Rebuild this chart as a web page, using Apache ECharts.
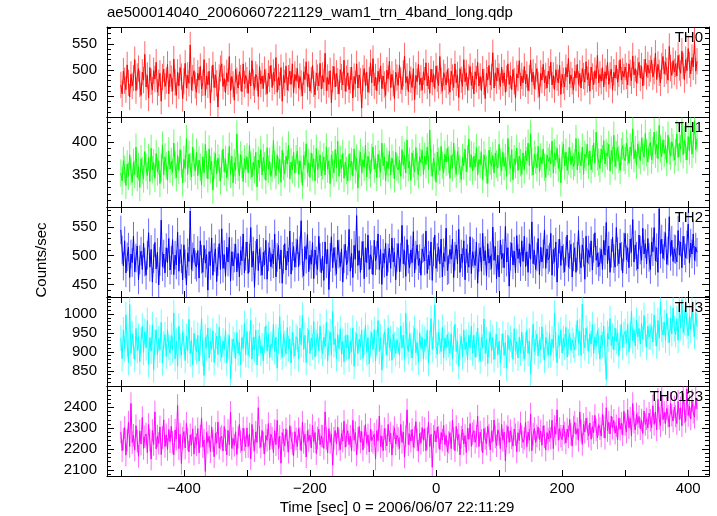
<!DOCTYPE html>
<html><head><meta charset="utf-8">
<script src="https://cdn.jsdelivr.net/npm/echarts@6/dist/echarts.min.js"></script>
<style>html,body{margin:0;padding:0;background:#fff}#c{width:717px;height:516px}</style>
</head><body><div id="c"></div>
<script>
// ---- data ----
const titleText = 'ae500014040_20060607221129_wam1_trn_4band_long.qdp';
const xTitle = 'Time [sec] 0 = 2006/06/07 22:11:29';
const yTitle = 'Counts/sec';
const panelNames = ['TH0', 'TH1', 'TH2', 'TH3', 'TH0123'];
const panelColors = ['#ff0000', '#00ff00', '#0000ff', '#00ffff', '#ff00ff'];
const tStart = -500, binSize = 2;
const xMin = -522, xMax = 433;
const xTickValues = [-500, -400, -300, -200, -100, 0, 100, 200, 300, 400];
const xLabelValues = [-400, -200, 0, 200, 400];
const yMins = [411, 300, 428, 810, 2071];
const yMaxs = [582, 438, 585, 1045, 2502];
const yLabelValues = [[450, 500, 550], [350, 400], [450, 500, 550], [850, 900, 950, 1000], [2100, 2200, 2300, 2400]];
const yMinorSteps = [10, 10, 10, 10, 20];
const panelErrors = [25, 21, 25, 34, 54];

const th0 = [
472,455,498,480,463,510,476,449,492,470,485,520,461,488,503,474,452,496,481,530,
468,490,447,505,478,462,499,483,515,458,476,494,441,487,502,469,480,511,455,493,
484,460,521,477,452,496,470,505,488,446,479,513,466,490,475,548,462,485,499,471,
458,494,481,507,464,476,520,452,489,472,498,438,483,510,467,491,475,430,486,503,
512,469,484,457,495,478,526,461,488,473,443,502,480,466,497,485,459,512,474,490,
481,456,499,470,518,476,463,492,486,450,507,474,489,465,501,478,455,494,483,509,
467,496,479,524,458,487,471,505,441,490,476,508,462,485,498,473,512,457,492,480,
503,466,488,475,451,497,482,516,469,492,460,481,509,474,453,495,486,470,513,464,
490,477,532,461,486,473,499,438,483,507,468,494,479,455,501,487,472,519,460,484,
495,463,481,506,447,488,474,512,466,491,479,428,485,503,470,496,458,481,514,476,
522,470,487,461,498,478,508,465,489,473,452,500,484,517,467,492,475,446,496,486,
471,510,480,463,494,527,476,488,459,498,482,467,503,444,490,478,511,472,485,462,
497,481,514,470,489,456,502,477,493,465,508,484,471,526,480,460,495,487,472,501,
479,458,498,486,467,512,476,491,448,503,482,469,520,478,495,462,486,507,471,489,
455,497,483,515,470,488,461,502,478,446,494,481,509,472,487,533,466,495,480,504,
488,469,506,476,495,458,484,512,473,490,463,501,479,447,493,485,518,470,489,476,
507,474,492,461,485,519,478,496,465,488,503,472,450,494,481,511,476,489,466,498,
483,515,472,490,463,501,486,476,509,454,492,480,468,505,487,522,474,491,479,462,
498,485,511,473,494,466,503,489,477,516,482,495,460,506,488,472,499,484,528,476,
492,479,505,468,497,484,515,473,490,502,462,496,485,509,477,493,520,481,498,487,
506,489,472,512,495,480,527,491,503,476,499,515,485,508,470,496,521,488,510,494,
503,519,487,498,532,482,511,495,476,508,526,493,515,499,481,545,504,490,518,497,
512,489,528,505,494,536,508,482,520,499,541,510,493,524,506,556,498,517];
const th1 = [
352,340,371,358,333,366,347,380,355,338,369,350,392,345,362,330,374,356,343,385,
361,348,376,339,390,357,368,344,382,354,371,336,360,395,349,377,363,341,386,358,
370,353,398,364,345,379,356,388,366,337,373,359,405,350,381,362,346,392,368,355,
384,348,372,361,334,377,352,396,365,343,389,357,370,326,364,382,351,375,360,340,
366,389,354,373,345,362,393,350,378,337,368,356,412,361,348,380,365,339,374,358,
377,352,395,364,346,369,357,384,331,372,360,388,349,376,363,341,391,358,370,347,
359,402,365,348,380,356,373,338,387,362,351,378,366,395,343,369,357,384,352,374,
386,350,371,358,333,379,364,397,352,368,345,383,361,374,340,390,357,366,380,348,
363,377,349,392,358,371,336,380,365,352,388,360,401,347,373,359,382,344,369,356,
340,381,362,370,348,389,357,375,329,366,384,353,372,361,395,346,378,364,351,376,
392,358,374,345,381,366,353,398,363,377,340,370,359,386,349,375,365,343,384,361,
357,372,347,388,364,379,352,403,360,370,341,383,366,354,391,362,349,377,368,387,
350,378,365,392,357,418,368,347,375,362,338,384,370,356,393,364,352,381,369,390,
372,344,379,360,398,366,350,385,371,358,342,376,363,389,354,374,404,361,380,355,
378,361,391,349,373,365,384,342,380,368,357,336,387,371,363,379,352,383,366,360,
396,369,355,384,362,376,347,405,371,359,388,342,374,365,390,356,378,368,350,383,
357,386,371,398,363,412,369,349,381,372,360,393,354,377,366,389,361,345,380,370,
376,366,401,352,383,372,390,359,375,337,379,396,363,384,356,371,391,365,378,362,
368,405,357,384,373,363,392,350,381,376,396,364,386,357,374,398,367,415,377,369,
359,389,374,402,366,383,378,396,355,387,371,410,362,380,391,373,356,385,394,376,
371,398,385,367,392,379,420,374,388,364,397,380,371,406,386,376,413,383,369,394,
399,372,387,415,381,396,374,425,389,377,403,382,394,368,410,386,378,400,391,372,
384,412,376,398,389,428,380,403,393,372,408,386,417,381,396,432,388,405];
const th2 = [
545,510,482,526,470,498,515,462,503,488,534,472,496,517,458,493,508,476,522,489,
466,501,540,480,511,454,495,523,477,506,449,490,562,481,503,470,514,488,530,475,
492,528,467,501,484,541,473,511,495,458,519,486,449,505,490,578,476,498,513,484,
480,509,461,526,494,471,518,487,502,440,507,483,531,466,497,512,455,490,521,476,
547,478,502,464,515,489,532,456,507,482,496,520,472,504,463,509,491,538,470,499,
524,469,496,549,480,508,445,501,529,474,512,490,466,506,484,527,459,498,514,481,
503,486,538,463,497,518,477,510,452,494,521,475,508,489,543,468,499,516,480,505,
528,481,509,561,487,465,516,494,537,472,501,485,523,460,510,491,476,534,497,470,
499,457,524,486,511,441,497,533,479,514,490,468,527,503,481,512,454,495,520,484,
491,546,473,504,462,518,494,570,483,509,471,500,525,460,514,488,536,476,502,493,
467,527,491,501,538,476,511,450,504,487,522,465,496,513,478,531,489,506,458,497,
521,472,497,553,486,509,464,528,494,479,510,488,542,470,501,519,483,495,466,512,
514,491,543,469,501,483,524,457,507,536,478,497,515,486,529,463,505,490,548,474,
476,511,494,529,462,499,519,486,546,471,503,488,526,458,512,495,480,533,469,507,
504,483,524,452,497,514,473,539,491,509,465,521,487,500,478,550,492,516,460,501,
463,527,494,504,479,551,489,514,447,499,522,484,508,470,535,495,512,481,526,490,
534,481,507,471,521,494,559,486,509,476,498,530,467,515,489,503,545,478,512,493,
497,539,466,511,489,524,454,504,529,483,517,495,472,508,536,480,502,520,463,498,
514,471,499,544,493,479,519,506,459,534,488,510,497,526,475,513,540,492,505,481,
489,511,476,527,501,558,486,517,471,504,532,495,480,549,507,486,522,499,470,515,
539,493,514,479,529,506,563,489,519,499,477,536,510,492,548,503,521,486,530,497,
476,524,507,549,491,514,471,582,503,529,495,517,540,485,508,568,499,527,490,512,
511,489,544,501,524,479,534,509,496,519,555,487,522,503,538,492,515,506];
const th3 = [
936,882,958,907,998,921,872,1025,896,948,915,880,962,903,941,874,930,968,899,954,
911,983,867,938,902,972,853,926,958,892,935,905,978,871,921,946,888,959,913,897,
944,906,1003,882,929,862,968,916,891,953,925,877,941,903,986,895,931,866,949,912,
901,944,876,924,988,896,838,939,911,963,884,928,907,956,872,917,942,893,965,908,
886,929,906,958,871,914,944,829,901,934,918,882,951,897,925,866,938,909,975,893,
954,891,919,983,881,939,906,958,866,924,943,897,916,876,932,969,902,947,885,921,
911,973,901,939,857,929,993,914,886,948,922,895,964,908,934,871,952,917,889,940,
934,881,963,919,997,906,944,872,929,958,896,937,913,980,887,926,948,903,968,916,
896,939,914,978,876,924,953,891,1007,919,935,882,946,909,961,894,928,874,943,912,
944,881,929,901,963,862,919,948,896,934,912,957,883,925,970,899,938,868,921,951,
906,959,876,924,983,901,939,852,914,953,928,891,964,910,935,878,947,919,896,932,
929,891,968,911,944,881,1002,919,901,948,917,884,936,962,898,925,873,951,909,939,
881,934,914,958,871,924,988,906,944,1024,917,893,952,928,901,965,884,937,911,946,
919,896,948,881,934,973,901,929,862,914,941,887,958,906,926,879,944,912,968,897,
944,886,919,963,906,876,939,911,987,896,932,869,921,951,903,938,880,915,946,892,
929,871,914,948,891,924,857,944,906,934,918,881,961,902,927,884,939,897,952,910,
881,919,958,896,929,842,911,973,901,924,947,889,932,905,966,913,878,938,920,891,
949,891,934,911,1002,919,871,944,916,958,897,936,913,965,886,927,949,904,931,918,
906,939,983,924,954,891,1026,929,911,963,935,902,948,921,972,896,940,915,957,930,
881,944,919,968,901,827,949,934,988,916,942,905,963,928,951,890,937,974,912,946,
954,924,973,901,944,1007,929,958,916,983,940,962,921,975,934,996,947,912,968,939,
941,968,926,998,949,916,983,936,1032,959,945,978,931,1002,957,924,989,948,1016,961,
946,988,931,1012,964,1038,951,978,1022,969,943,995,958,1018,972,941,1004,966];
const th0123 = [
2281,2192,2248,2303,2171,2242,2329,2212,2418,2231,2266,2195,2312,2238,2165,2287,2224,2351,2203,2259,
2272,2183,2318,2241,2152,2289,2222,2378,2201,2262,2227,2306,2174,2255,2340,2212,2268,2198,2294,2235,
2309,2232,2172,2291,2248,2409,2202,2271,2131,2252,2284,2205,2323,2246,2186,2268,2219,2297,2176,2258,
2221,2298,2182,2262,2348,2211,2243,2093,2279,2232,2261,2187,2306,2240,2163,2275,2228,2329,2204,2252,
2262,2191,2308,2243,2172,2289,2221,2376,2203,2251,2218,2283,2174,2256,2318,2236,2192,2301,2245,2210,
2301,2212,2272,2153,2318,2241,2192,2281,2232,2398,2257,2209,2289,2230,2176,2265,2242,2322,2197,2271,
2252,2183,2288,2221,2338,2202,2262,2132,2279,2243,2215,2297,2238,2185,2312,2254,2226,2168,2283,2249,
2212,2298,2251,2192,2328,2232,2271,2162,2288,2241,2267,2205,2313,2236,2279,2178,2254,2296,2220,2263,
2261,2203,2378,2251,2182,2298,2231,2272,2123,2252,2289,2224,2306,2245,2197,2274,2238,2333,2209,2265,
2288,2221,2262,2191,2338,2242,2279,2172,2251,2308,2233,2284,2195,2259,2317,2227,2268,2186,2295,2241,
2232,2271,2152,2288,2241,2358,2212,2262,2192,2298,2247,2215,2318,2236,2277,2171,2259,2302,2224,2266,
2251,2203,2318,2232,2281,2162,2262,2388,2221,2272,2238,2294,2209,2257,2331,2244,2190,2276,2228,2303,
2242,2298,2192,2251,2328,2212,2271,2113,2262,2288,2234,2305,2256,2198,2279,2243,2314,2221,2265,2187,
2232,2279,2202,2338,2251,2192,2308,2242,2271,2172,2257,2296,2224,2265,2183,2301,2246,2322,2213,2274,
2288,2232,2262,2358,2212,2281,2242,2182,2298,2251,2224,2309,2267,2196,2285,2237,2339,2258,2216,2292,
2271,2202,2318,2242,2281,2143,2262,2308,2232,2288,2253,2214,2296,2269,2187,2278,2241,2325,2259,2232,
2251,2328,2212,2281,2242,2368,2192,2271,2298,2232,2263,2305,2246,2287,2218,2312,2259,2195,2279,2248,
2288,2252,2338,2202,2308,2271,2388,2242,2298,2262,2245,2314,2277,2229,2296,2258,2342,2271,2214,2306,
2328,2271,2298,2242,2378,2288,2222,2318,2281,2348,2296,2263,2325,2247,2308,2279,2361,2292,2254,2317,
2298,2262,2368,2308,2252,2398,2288,2328,2272,2358,2301,2337,2276,2312,2245,2349,2295,2324,2268,2381,
2318,2281,2388,2302,2348,2262,2418,2328,2292,2368,2323,2356,2297,2339,2275,2382,2318,2345,2301,2372,
2338,2302,2408,2318,2378,2292,2438,2348,2312,2458,2341,2376,2322,2395,2357,2306,2419,2362,2334,2401,
2358,2322,2428,2342,2398,2312,2468,2378,2332,2488,2361,2405,2344,2432,2376,2352,2446,2391];
const panelData = [th0, th1, th2, th3, th0123];

// ---- chart ----
const FONT = '"Liberation Sans", Arial, Helvetica, sans-serif';
const INK = '#000';
const tops = [27, 117, 207, 297, 386];
const heights = [90, 90, 90, 89, 90];
const grids = [], xAxes = [], yAxes = [], series = [], graphics = [];

function minorValues(lo, hi, step, majors) {
  const out = [];
  for (let v = Math.ceil(lo / step) * step; v <= hi; v += step) if (majors.indexOf(v) < 0) out.push(v);
  return out;
}

for (let i = 0; i < 5; i++) {
  grids.push({ left: 107, width: 602, top: tops[i], height: heights[i] });
  const xBase = {
    type: 'value', gridIndex: i, min: xMin, max: xMax,
    axisLine: { show: true, onZero: false, lineStyle: { color: INK, width: 1 } },
    axisTick: { show: true, inside: true, length: 6, customValues: xTickValues, lineStyle: { color: INK, width: 1 } },
    splitLine: { show: false }
  };
  xAxes.push(Object.assign({}, xBase, {
    position: 'bottom',
    axisLabel: {
      show: i === 4, customValues: xLabelValues, color: INK, fontSize: 15, fontFamily: FONT, margin: 5,
      formatter: v => String(v).replace('-', '\u2212')
    }
  }));
  xAxes.push(Object.assign({}, xBase, { position: 'top', axisLabel: { show: false } }));

  const majors = yLabelValues[i];
  const minors = minorValues(yMins[i], yMaxs[i], yMinorSteps[i], majors);
  const yBase = { type: 'value', gridIndex: i, min: yMins[i], max: yMaxs[i], splitLine: { show: false } };
  yAxes.push(Object.assign({}, yBase, {
    position: 'left',
    axisLine: { show: true, onZero: false, lineStyle: { color: INK, width: 1 } },
    axisTick: { show: true, inside: true, length: 7, customValues: majors, lineStyle: { color: INK } },
    axisLabel: { show: true, customValues: majors, color: INK, fontSize: 15, fontFamily: FONT, margin: 10, formatter: v => String(v) }
  }));
  yAxes.push(Object.assign({}, yBase, {
    position: 'left',
    axisLine: { show: false, onZero: false },
    axisTick: { show: true, inside: true, length: 4, customValues: minors, lineStyle: { color: INK } },
    axisLabel: { show: false }
  }));
  yAxes.push(Object.assign({}, yBase, {
    position: 'right',
    axisLine: { show: true, onZero: false, lineStyle: { color: INK, width: 1 } },
    axisTick: { show: true, inside: true, length: 7, customValues: majors, lineStyle: { color: INK } },
    axisLabel: { show: false }
  }));
  yAxes.push(Object.assign({}, yBase, {
    position: 'right',
    axisLine: { show: false, onZero: false },
    axisTick: { show: true, inside: true, length: 4, customValues: minors, lineStyle: { color: INK } },
    axisLabel: { show: false }
  }));

  const vals = panelData[i];
  const pts = vals.map((v, k) => [tStart + k * binSize, v]);
  const err = panelErrors[i];
  const col = panelColors[i];
  // error bars
  series.push({
    type: 'custom', xAxisIndex: 2 * i, yAxisIndex: 4 * i,
    data: pts, animation: false, silent: true,
    renderItem: function (params, api) {
      const t = api.value(0), v = api.value(1);
      const p1 = api.coord([t, v - err]);
      const p2 = api.coord([t, v + err]);
      const cs = params.coordSys;
      const yTop = Math.max(p2[1], cs.y), yBot = Math.min(p1[1], cs.y + cs.height);
      return {
        type: 'line',
        shape: { x1: p1[0], y1: yBot, x2: p1[0], y2: yTop },
        style: { stroke: col, lineWidth: 1, opacity: 0.6 }
      };
    }
  });
  series.push({
    type: 'line', xAxisIndex: 2 * i, yAxisIndex: 4 * i,
    data: pts,
    showSymbol: false, symbol: 'none', sampling: 'none',
    lineStyle: { color: col, width: 1 },
    clip: true, animation: false, silent: true
  });

  graphics.push({
    type: 'text', right: 717 - 703, top: tops[i] + 3,
    style: { text: panelNames[i], font: '15px ' + FONT, fill: INK }, z: 100
  });
}

graphics.push({ type: 'text', left: 107, top: 5, style: { text: titleText, font: '15px ' + FONT, fill: INK } });
graphics.push({ type: 'text', x: 397, y: 508, style: { text: xTitle, font: '15px ' + FONT, fill: INK, textAlign: 'center', textVerticalAlign: 'middle' } });
graphics.push({ type: 'text', x: 42, y: 260, rotation: Math.PI / 2, style: { text: yTitle, font: '15px ' + FONT, fill: INK, textAlign: 'center', textVerticalAlign: 'middle' } });

const chart = echarts.init(document.getElementById('c'), null, { renderer: 'canvas' });
chart.setOption({
  backgroundColor: '#fff',
  animation: false,
  grid: grids, xAxis: xAxes, yAxis: yAxes, series: series, graphic: graphics
});
</script></body></html>
